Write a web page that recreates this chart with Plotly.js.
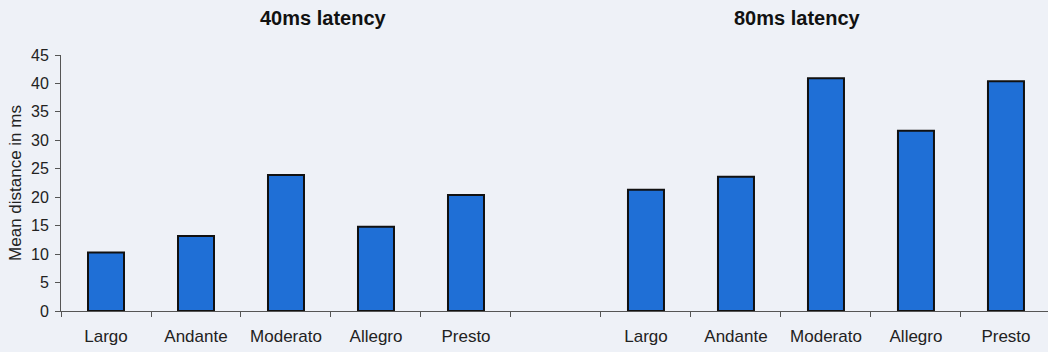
<!DOCTYPE html>
<html>
<head>
<meta charset="utf-8">
<script src="https://cdn.plot.ly/plotly-3.0.1.min.js"></script>
<style>
html,body{margin:0;padding:0;background:#eef1f7;}
#chart{width:1048px;height:352px;}
</style>
</head>
<body>
<div id="chart"></div>
<script>
// Data
var categories = ["Largo", "Andante", "Moderato", "Allegro", "Presto"];
var groupTitles = ["40ms latency", "80ms latency"];
var values40 = [10.3, 13.2, 23.9, 14.8, 20.4];
var values80 = [21.3, 23.6, 40.9, 31.7, 40.4];
var yTicks = [0, 5, 10, 15, 20, 25, 30, 35, 40, 45];

// Slot positions: group 1 in slots 0-4, empty slot 5, group 2 in slots 6-10
var x40 = categories.map(function (c, i) { return i; });
var x80 = categories.map(function (c, i) { return i + categories.length + 1; });
var tickPos = x40.concat(x80);
var tickLab = categories.concat(categories);
var nSlots = categories.length * 2 + 1;
var boundaries = [];
for (var b = 0; b <= nSlots; b++) boundaries.push(b - 0.5);

var barStyle = {
  color: "#1f6fd6",
  line: { color: "#111111", width: 2 }
};

var traces = [
  { type: "bar", x: x40, y: values40, width: 0.4, marker: barStyle, name: groupTitles[0], hoverinfo: "y" },
  { type: "bar", x: x80, y: values80, width: 0.4, marker: barStyle, name: groupTitles[1], hoverinfo: "y" },
  // invisible trace to carry boundary tick marks on a second x axis
  { type: "scatter", x: [boundaries[0], boundaries[boundaries.length - 1]], y: [0, 0], xaxis: "x2", mode: "none", hoverinfo: "skip", showlegend: false }
];

var font = "Liberation Sans, Arial, sans-serif";
var xRange = [-0.5, 10.467];

var layout = {
  width: 1048,
  height: 352,
  margin: { l: 61, r: 0, t: 55, b: 41 },
  paper_bgcolor: "#eef1f7",
  plot_bgcolor: "#eef1f7",
  showlegend: false,
  bargap: 0,
  font: { family: font, size: 14, color: "#222222" },
  xaxis: {
    range: xRange,
    tickmode: "array",
    tickvals: tickPos,
    ticktext: tickLab,
    ticks: "",
    showgrid: false,
    zeroline: false,
    showline: true,
    linecolor: "#555555",
    linewidth: 1,
    tickfont: { family: font, size: 17, color: "#222222" },
    ticklabelstandoff: 10,
    fixedrange: true
  },
  xaxis2: {
    overlaying: "x",
    range: xRange,
    tickmode: "array",
    tickvals: boundaries,
    ticktext: boundaries.map(function () { return ""; }),
    ticks: "outside",
    ticklen: 5,
    tickcolor: "#555555",
    showgrid: false,
    zeroline: false,
    showline: false,
    side: "bottom",
    anchor: "y",
    fixedrange: true
  },
  yaxis: {
    range: [0, 45],
    tickmode: "array",
    tickvals: yTicks,
    ticks: "outside",
    ticklen: 5,
    tickcolor: "#555555",
    showgrid: false,
    zeroline: false,
    showline: true,
    linecolor: "#555555",
    linewidth: 1,
    tickfont: { family: font, size: 16, color: "#222222" },
    ticklabelstandoff: 3,
    title: { text: "Mean distance in ms", font: { family: font, size: 17, color: "#222222" }, standoff: 5 },
    fixedrange: true
  },
  annotations: [
    { text: "<b>" + groupTitles[0] + "</b>", xref: "paper", yref: "paper", x: 0.2655, y: 1.1445, xanchor: "center", yanchor: "middle", showarrow: false, font: { family: font, size: 20, color: "#111111" } },
    { text: "<b>" + groupTitles[1] + "</b>", xref: "paper", yref: "paper", x: 0.7467, y: 1.1445, xanchor: "center", yanchor: "middle", showarrow: false, font: { family: font, size: 20, color: "#111111" } }
  ]
};

Plotly.newPlot("chart", traces, layout, { displayModeBar: false, staticPlot: true });
</script>
</body>
</html>
